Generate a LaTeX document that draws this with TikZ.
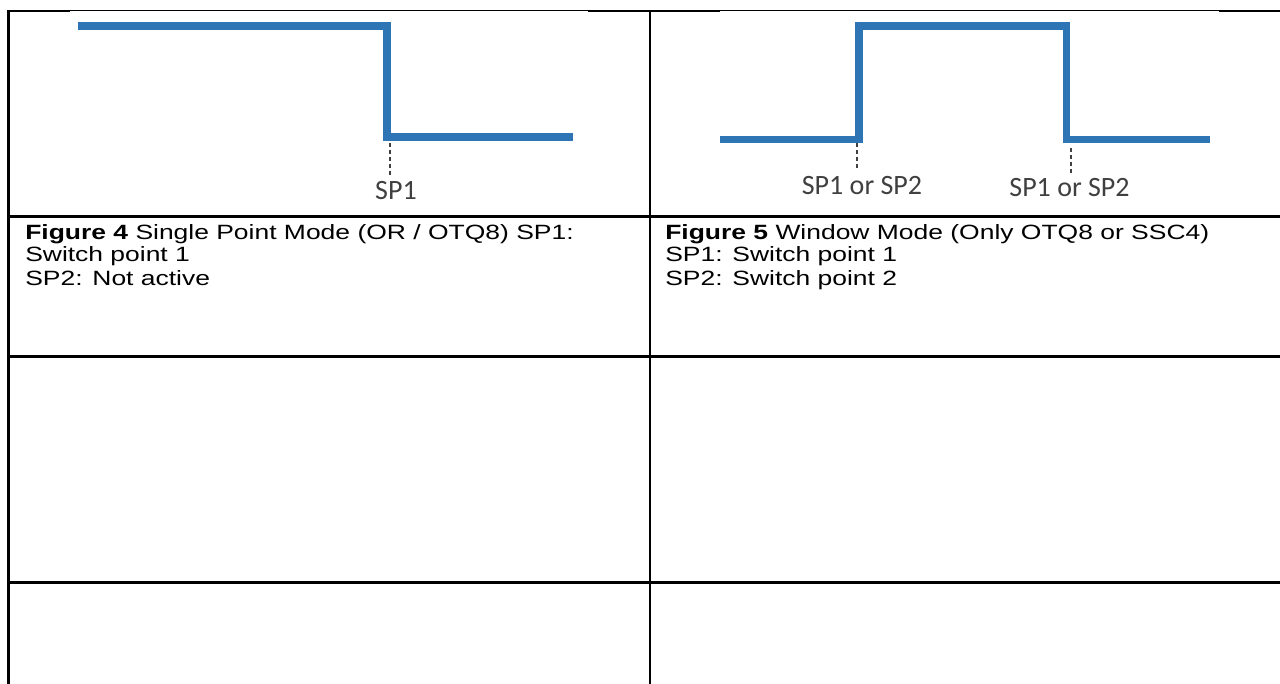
\documentclass[tikz,border=0pt]{standalone}
\usepackage{fontspec}
\newfontfamily\tabfont[FakeStretch=1.28]{Liberation Sans}
\newfontfamily\lblfont{Carlito}
\definecolor{wavecol}{RGB}{46,117,182}
\definecolor{lblcol}{RGB}{64,64,64}
\tikzset{
  wave/.style={draw=wavecol, line width=5.6pt, line join=miter, line cap=butt},
  guide/.style={draw=lblcol, line width=1.1pt, dash pattern=on 3pt off 2.2pt},
  splabel/.style={font=\lblfont\fontsize{21}{25}\selectfont, text=lblcol, inner sep=0pt, anchor=base},
  celltext/.style={font=\tabfont\fontsize{15.5}{18}\selectfont, inner sep=0pt, anchor=base west},
  tabrule/.style={draw=black, line width=1.8pt},
  thinrule/.style={draw=black, line width=0.8pt},
}
\begin{document}
\begin{tikzpicture}[x=0.75pt,y=-0.75pt]
\useasboundingbox (0,0) rectangle (1280,684);
\fill[white] (0,0) rectangle (1280,684);

% table rules
\draw[thinrule] (8,10.5) -- (1280,10.5);
\draw[tabrule] (7.5,11) -- (70,11);
\draw[tabrule] (588,11) -- (720,11);
\draw[tabrule] (1219,11) -- (1280,11);
\draw[tabrule] (8.5,9.8) -- (8.5,684);
\draw[tabrule] (650,10) -- (650,684);
\draw[tabrule] (7.5,216.5) -- (1280,216.5);
\draw[tabrule] (7.5,356.5) -- (1280,356.5);
\draw[tabrule] (7.5,582.5) -- (1280,582.5);

% left waveform
\coordinate (a0) at (78,26);
\coordinate (a1) at (387,26);
\coordinate (a2) at (387,137);
\coordinate (a3) at (573,137);
\draw[wave] (a0) -- (a1) -- (a2) -- (a3);
\coordinate (d1) at (390,143);
\node[splabel] (l1) at (396,200) {SP1};
\draw[guide, shorten >=5pt] (d1) -- (d1 |- l1.north);

% right waveform
\coordinate (b0) at (720,139.5);
\coordinate (b1) at (859,139.5);
\coordinate (b2) at (859,26);
\coordinate (b3) at (1066.5,26);
\coordinate (b4) at (1066.5,139.5);
\coordinate (b5) at (1210,139.5);
\draw[wave] (b0) -- (b1) -- (b2) -- (b3) -- (b4) -- (b5);
\coordinate (d2) at (857,143);
\coordinate (d3) at (1071,148);
\node[splabel] (l2) at (862,195) {SP1 or SP2};
\node[splabel] (l3) at (1069.5,197) {SP1 or SP2};
\draw[guide, shorten >=5pt] (d2) -- (d2 |- l2.north);
\draw[guide, shorten >=3pt] (d3) -- (d3 |- l3.north);

% cell texts
\node[celltext] (t1) at (25,239) {\textbf{Figure 4} Single Point Mode (OR / OTQ8) SP1:};
\node[celltext] (t2) at (25,262) {Switch point 1};
\node[celltext] (t3) at (25,285) {SP2: Not active};
\node[celltext] (u1) at (665,239) {\textbf{Figure 5} Window Mode (Only OTQ8 or SSC4)};
\node[celltext] (u2) at (665,262) {SP1: Switch point 1};
\node[celltext] (u3) at (665,285) {SP2: Switch point 2};
\end{tikzpicture}
\end{document}
